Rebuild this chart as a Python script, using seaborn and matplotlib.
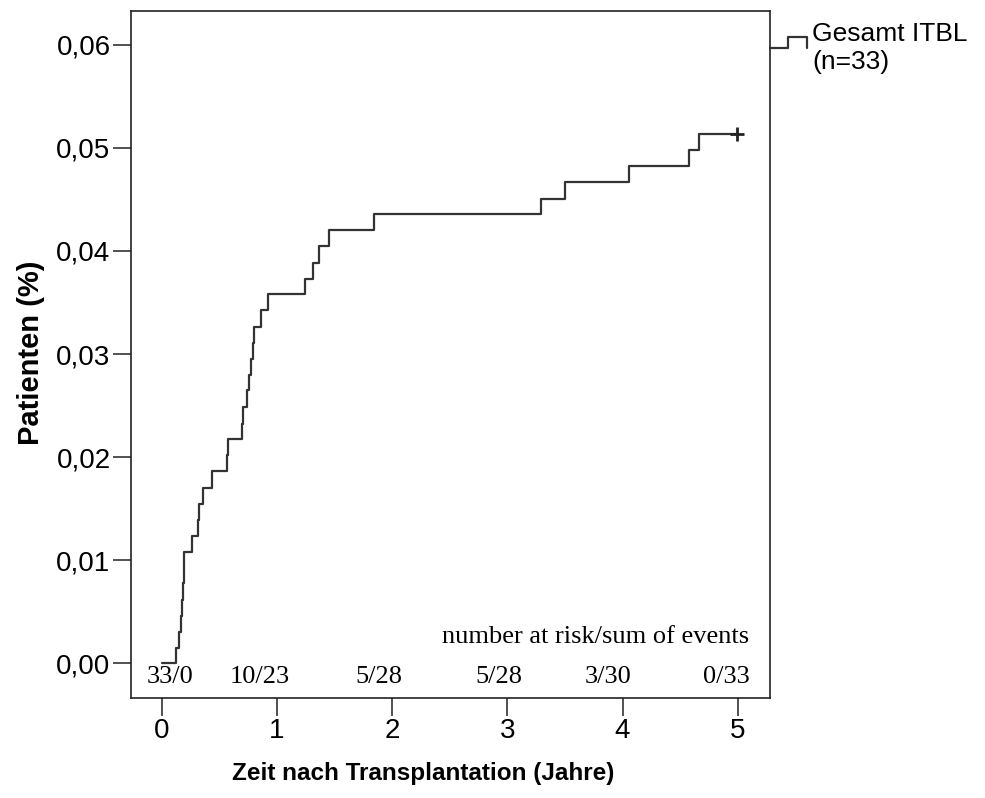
import matplotlib
matplotlib.use("Agg")
import matplotlib.pyplot as plt
import numpy as np
import pandas as pd
import seaborn as sns

# Event times (years after transplantation) and cumulative incidence after each event
event_times = [0.124, 0.147, 0.165, 0.179, 0.187, 0.193, 0.196, 0.263, 0.312, 0.323,
               0.356, 0.434, 0.564, 0.571, 0.696, 0.703, 0.742, 0.757, 0.774, 0.789,
               0.803, 0.861, 0.919, 1.243, 1.310, 1.367, 1.454, 1.841, 3.296, 3.498,
               4.053, 4.576, 4.663]
cum_incidence = [0.00145, 0.00300, 0.00458, 0.00613, 0.00775, 0.00936, 0.01081, 0.01234,
                 0.01389, 0.01550, 0.01705, 0.01863, 0.02018, 0.02173, 0.02326, 0.02484,
                 0.02648, 0.02794, 0.02955, 0.03107, 0.03262, 0.03423, 0.03579, 0.03731,
                 0.03886, 0.04047, 0.04199, 0.04354, 0.04506, 0.04673, 0.04822, 0.04981,
                 0.05136]
censor_time = 4.99

# Number at risk / cumulative events table
risk_labels = ["33/0", "10/23", "5/28", "5/28", "3/30", "0/33"]
risk_label_x = [0.068, 0.853, 1.882, 2.930, 3.871, 4.903]

x_ticks = [0, 1, 2, 3, 4, 5]
y_ticks = [0.00, 0.01, 0.02, 0.03, 0.04, 0.05, 0.06]
y_tick_labels = ["0,00", "0,01", "0,02", "0,03", "0,04", "0,05", "0,06"]

sns.set_style("ticks")
plt.rcParams["font.family"] = ["Liberation Sans", "DejaVu Sans"]
plt.rcParams["text.color"] = "black"
plt.rcParams["axes.labelcolor"] = "black"
plt.rcParams["xtick.labelcolor"] = "black"
plt.rcParams["ytick.labelcolor"] = "black"

fig = plt.figure(figsize=(9.85, 7.98), dpi=100)
ax = fig.add_axes([0.1327, 0.1249, 0.6490, 0.8617])

curve = pd.DataFrame({
    "Zeit": [0.0] + event_times + [censor_time],
    "Anteil": [0.0] + cum_incidence + [cum_incidence[-1]],
})
sns.lineplot(data=curve, x="Zeit", y="Anteil", estimator=None, sort=False,
             drawstyle="steps-post", color="#333333", linewidth=1.6, ax=ax)

# censored observation
ax.plot([censor_time], [cum_incidence[-1]], marker="+", markersize=10,
        markeredgewidth=2.0, color="#222222", linestyle="none")

ax.set_xlim(-0.27, 5.28)
ax.set_ylim(-0.00339, 0.0633)
ax.set_xticks(x_ticks)
ax.set_xticklabels([str(v) for v in x_ticks])
ax.set_yticks(y_ticks)
ax.set_yticklabels(y_tick_labels)
ax.tick_params(axis="both", direction="out", length=13, width=1.1,
               color="#222222", labelcolor="black", labelsize=20, pad=1.5)

for side in ["left", "right", "top", "bottom"]:
    ax.spines[side].set_visible(True)
    ax.spines[side].set_linewidth(1.2)
    ax.spines[side].set_color("#222222")

ax.set_xlabel("Zeit nach Transplantation (Jahre)", fontsize=17.5, fontweight="bold")
ax.xaxis.label.set_verticalalignment("center")
ax.xaxis.set_label_coords(0.457, -0.1086)
ax.set_ylabel("Patienten (%)", fontsize=21, fontweight="bold")
ax.yaxis.label.set_verticalalignment("center")
ax.yaxis.set_label_coords(-0.1560, 0.502)

# number-at-risk annotations
serif = ["Liberation Serif", "DejaVu Serif"]
for lbl, xp in zip(risk_labels, risk_label_x):
    ax.text(xp, -0.00188, lbl, ha="center", va="baseline", fontsize=19, family=serif)
ax.text(5.098, 0.00197, "number at risk/sum of events", ha="right", va="baseline",
        fontsize=19, family=serif)

# legend key drawn outside the frame
ax.plot([1.0, 1.028, 1.028, 1.058, 1.058], [0.9453, 0.9453, 0.9622, 0.9622, 0.9453],
        transform=ax.transAxes, clip_on=False, color="#333333", linewidth=1.6)
fig.text(812 / 985, 1 - 34 / 798, "Gesamt ITBL", ha="left", va="center", fontsize=19)
fig.text(812 / 985, 1 - 62 / 798, "(n=33)", ha="left", va="center", fontsize=19)

fig.savefig("out.png", dpi=100, facecolor="white")
